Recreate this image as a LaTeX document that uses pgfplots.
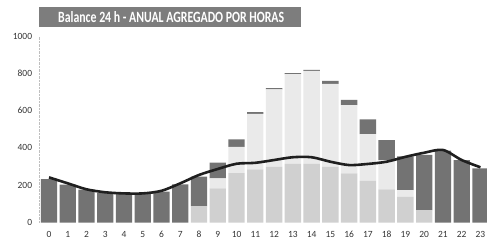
\documentclass[border=0pt]{standalone}
\usepackage{pgfplots}
\pgfplotsset{compat=1.18}
\usepackage{fontspec}
\setmainfont{Carlito}
\definecolor{darkbar}{RGB}{115,115,115}
\definecolor{midbar}{RGB}{208,208,208}
\definecolor{lightbar}{RGB}{234,234,234}
\definecolor{titlebg}{RGB}{125,125,125}
\pgfplotsset{common/.style={
  at={(0,0)}, anchor=south west,
  scale only axis, width=447.4bp, height=186.5bp,
  xmin=-0.5, xmax=23.35, ymin=0, ymax=1000}}
\begin{document}
\begin{tikzpicture}
\useasboundingbox (-39.6bp,-24.5bp) rectangle (447.4bp,222.5bp);
\begin{axis}[
  common,
  ybar stacked, bar width=0.87,
  axis lines=left, axis line style={-},
  x axis line style={draw=none},
  y axis line style={gray!50, densely dotted},
  ytick={0,200,...,1000}, xtick={0,...,23},
  major tick length=0pt,
  tick label style={font=\fontsize{9.5}{10}\selectfont, text=black!80},
  /pgf/number format/assume math mode=true,
  /pgf/number format/1000 sep={},
  yticklabel style={xshift=-4bp},
  xticklabel style={yshift=-5bp},
]
\addplot[fill=midbar, draw=none] coordinates {
(0,0) (1,0) (2,0) (3,0) (4,0) (5,0) (6,0) (7,0) (8,88) (9,183) (10,265) (11,285)
(12,300) (13,315) (14,315) (15,300) (16,264) (17,224) (18,178) (19,138) (20,67)
(21,0) (22,0) (23,0)};
\addplot[fill=lightbar, draw=none] coordinates {
(0,0) (1,0) (2,0) (3,0) (4,0) (5,0) (6,0) (7,0) (8,0) (9,54) (10,141) (11,298)
(12,414) (13,480) (14,498) (15,443) (16,366) (17,250) (18,157) (19,36) (20,0)
(21,0) (22,0) (23,0)};
\addplot[fill=darkbar, draw=none] coordinates {
(0,232) (1,203) (2,176) (3,158) (4,152) (5,152) (6,166) (7,205) (8,158) (9,84)
(10,40) (11,9) (12,6) (13,6) (14,6) (15,17) (16,27) (17,79) (18,107) (19,180)
(20,295) (21,385) (22,335) (23,290)};
\end{axis}
\begin{axis}[common, hide axis]
\addplot[smooth, line width=2.6bp, color=black!88, mark=none] coordinates {
(0,242) (1,210) (2,178) (3,162) (4,156) (5,156) (6,170) (7,210) (8,255) (9,287)
(10,315) (11,320) (12,335) (13,350) (14,350) (15,326) (16,308) (17,314) (18,326)
(19,352) (20,374) (21,389) (22,335) (23,296)};
\end{axis}
\fill[titlebg] (-0.6bp,195.5bp) rectangle (261bp,215.5bp);
\node[inner sep=0pt, anchor=south west, text=white] at (18.4bp,199.5bp)
  {\resizebox{226bp}{11bp}{\bfseries Balance 24 h - ANUAL AGREGADO POR HORAS}};
\end{tikzpicture}
\end{document}
